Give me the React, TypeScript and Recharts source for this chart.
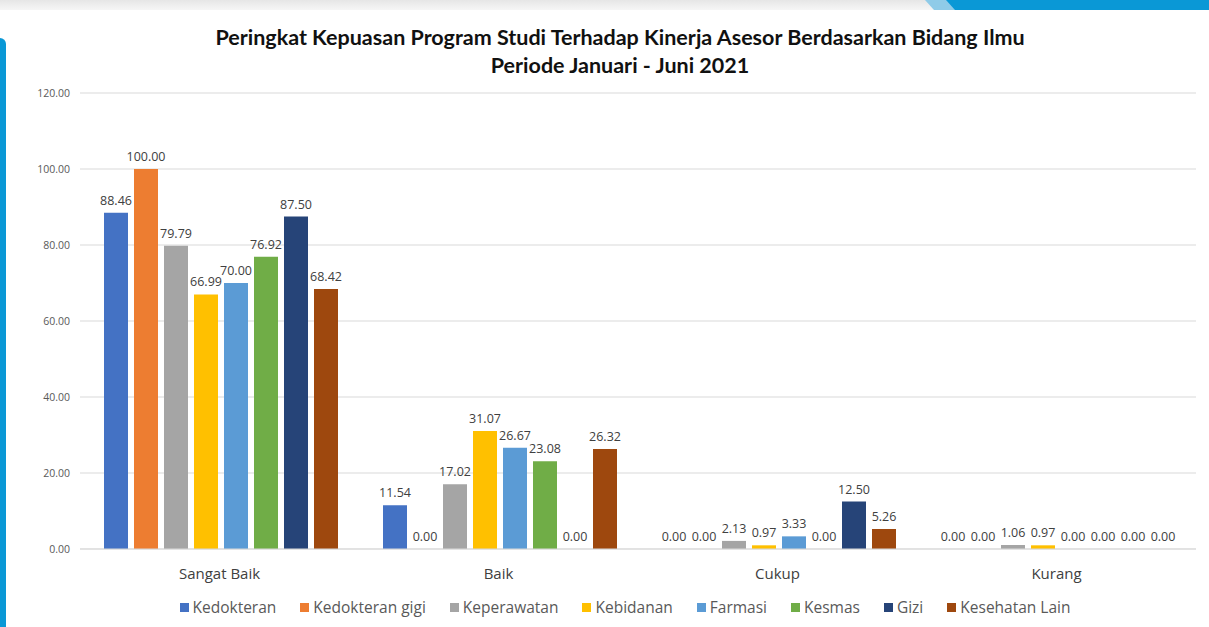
import { Bar, BarChart, CartesianGrid, LabelList, Legend, XAxis, YAxis } from "recharts";

const categories = ["Sangat Baik", "Baik", "Cukup", "Kurang"];

const programs = [
  "Kedokteran",
  "Kedokteran gigi",
  "Keperawatan",
  "Kebidanan",
  "Farmasi",
  "Kesmas",
  "Gizi",
  "Kesehatan Lain",
];

const colors = ["#4472C4", "#ED7D31", "#A5A5A5", "#FFC000", "#5B9BD5", "#70AD47", "#264478", "#9E480E"];

// one array per program, values in category order
const kedokteran = [88.46, 11.54, 0, 0];
const kedokteranGigi = [100, 0, 0, 0];
const keperawatan = [79.79, 17.02, 2.13, 1.06];
const kebidanan = [66.99, 31.07, 0.97, 0.97];
const farmasi = [70, 26.67, 3.33, 0];
const kesmas = [76.92, 23.08, 0, 0];
const gizi = [87.5, 0, 12.5, 0];
const kesehatanLain = [68.42, 26.32, 5.26, 0];

const yTicks = [0, 20, 40, 60, 80, 100, 120];

const seriesValues = [kedokteran, kedokteranGigi, keperawatan, kebidanan, farmasi, kesmas, gizi, kesehatanLain];

const data = categories.map((cat, i) => {
  const row: Record<string, string | number> = { category: cat };
  programs.forEach((p, j) => {
    row[p] = seriesValues[j][i];
  });
  return row;
});

const FONT = "'Open Sans', sans-serif";
const TITLE_FONT = "Lato, sans-serif";

// legend drawn in series order (recharts sorts by name otherwise)
function LegendContent() {
  return (
    <div style={{ display: "flex", justifyContent: "center", paddingLeft: 58, fontFamily: FONT }}>
      {programs.map((p, j) => (
        <div key={p} style={{ display: "flex", alignItems: "center", marginRight: 24 }}>
          <span style={{ width: 9, height: 9, background: colors[j], display: "inline-block", marginRight: 4 }} />
          <span style={{ fontSize: 15.5, color: "#595959" }}>{p}</span>
        </div>
      ))}
    </div>
  );
}

export default function App() {
  return (
    <div style={{ position: "absolute", left: 0, top: 0, width: 1209, height: 627, background: "#fff", overflow: "hidden" }}>
      {/* frame decorations */}
      <div style={{ position: "absolute", left: 0, top: 0, width: 1209, height: 10, background: "linear-gradient(#e6e6e6, #f6f6f6)" }} />
      <div style={{ position: "absolute", left: 945, top: 0, width: 264, height: 10, background: "#0a98d6" }} />
      <div style={{ position: "absolute", left: 925, top: 0, width: 30, height: 10, background: "#8fcbe8", clipPath: "polygon(0 0, 70% 0, 100% 100%, 30% 100%)" }} />
      <div style={{ position: "absolute", left: 0, top: 38, width: 6, height: 589, background: "#0a98d6", borderTopRightRadius: 6 }} />

      <div
        style={{
          position: "absolute",
          left: 0,
          top: 23,
          width: 1240,
          textAlign: "center",
          fontFamily: TITLE_FONT,
          fontWeight: 700,
          fontSize: 21.5,
          lineHeight: "28px",
          color: "#111",
        }}
      >
        Peringkat Kepuasan Program Studi Terhadap Kinerja Asesor Berdasarkan Bidang Ilmu
        <br />
        Periode Januari - Juni 2021
      </div>

      <div style={{ position: "absolute", left: 0, top: 0 }}>
        <BarChart
          width={1209}
          height={627}
          data={data}
          margin={{ top: 93, right: 13, left: 20, bottom: 7 }}
          barCategoryGap={24}
          barGap={6}
        >
          <CartesianGrid vertical={false} stroke="#d9d9d9" />
          <XAxis
            dataKey="category"
            axisLine={{ stroke: "#d9d9d9" }}
            tickLine={false}
            tickSize={6}
            tickMargin={13}
            height={47}
            tick={{ fill: "#404040", fontSize: 15, fontFamily: FONT }}
          />
          <YAxis
            domain={[0, 120]}
            ticks={yTicks}
            width={60}
            axisLine={false}
            tickLine={false}
            tickSize={0}
            tickMargin={10}
            tick={{ fill: "#595959", fontSize: 10.5, fontFamily: FONT }}
            tickFormatter={(v: number) => v.toFixed(2)}
          />
          <Legend verticalAlign="bottom" height={24} content={<LegendContent />} />
          {programs.map((p, j) => (
            <Bar
              key={p}
              dataKey={p}
              fill={colors[j]}
              isAnimationActive={false}
              minPointSize={(v: number) => (v === 0 ? 0.01 : 0)}
            >
              <LabelList
                dataKey={p}
                position="top"
                offset={8}
                fill="#404040"
                fontSize={12.5}
                fontFamily={FONT}
                formatter={(v: any) => Number(v).toFixed(2)}
              />
            </Bar>
          ))}
        </BarChart>
      </div>
    </div>
  );
}
